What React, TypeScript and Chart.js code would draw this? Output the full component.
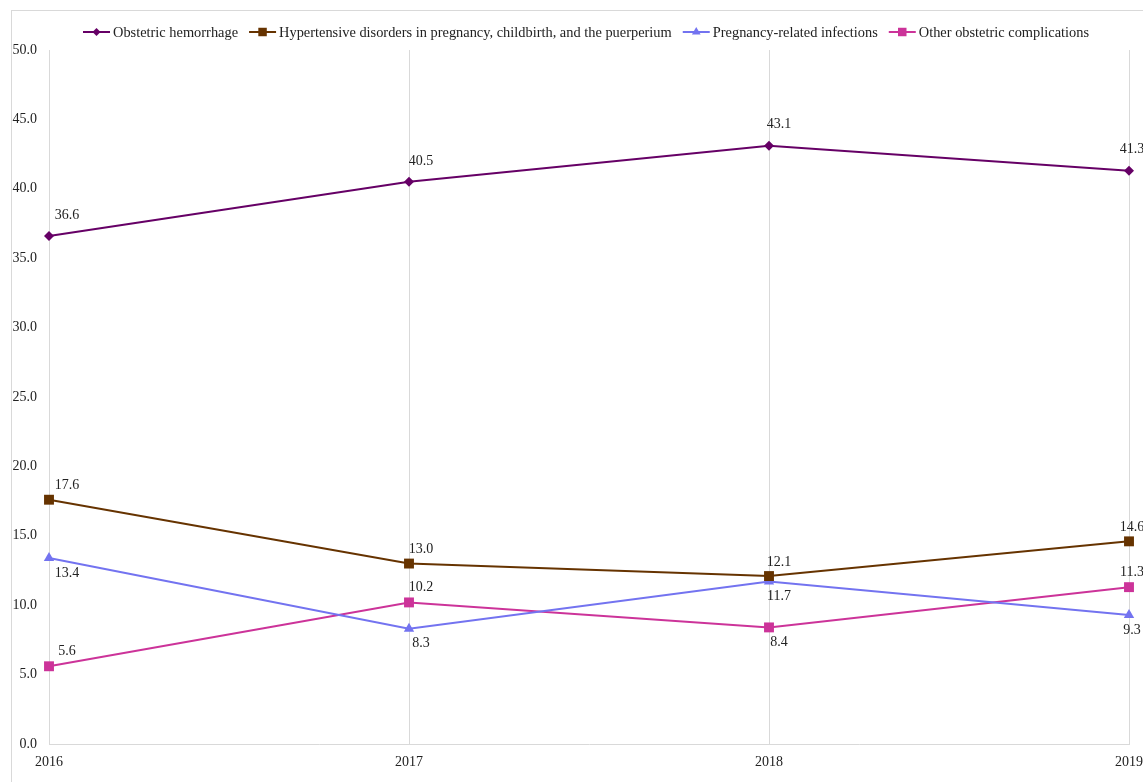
import React, { useEffect, useRef } from "react";
import { Chart, registerables } from "chart.js";

Chart.register(...registerables);

const years = ["2016", "2017", "2018", "2019"];
const hemorrhage = [36.6, 40.5, 43.1, 41.3];
const hypertensive = [17.6, 13.0, 12.1, 14.6];
const infections = [13.4, 8.3, 11.7, 9.3];
const otherComplications = [5.6, 10.2, 8.4, 11.3];

const seriesNames = [
  "Obstetric hemorrhage",
  "Hypertensive disorders in pregnancy, childbirth, and the puerperium",
  "Pregnancy-related infections",
  "Other obstetric complications",
];

// label placement per series/point (style only)
const labelSide = [
  ["above", "above", "above", "above"],
  ["above", "above", "above", "above"],
  ["below", "below", "below", "below"],
  ["above", "above", "below", "above"],
];
const labelDx = [18, 12, 10, 3];
const labelAboveGap = [21, 14, 14, 15];
const labelBelowGap = 13;

const FONT = '"Liberation Serif", "Times New Roman", serif';

const colors = ["#660066", "#663300", "#7373F0", "#CC3399"];
const pointStyles = ["rectRot", "rect", "triangle", "rect"];
const pointRadii = [5, 7, 6, 7];

function drawMarker(ctx: CanvasRenderingContext2D, style: string, x: number, y: number, r: number, color: string) {
  ctx.save();
  ctx.fillStyle = color;
  ctx.beginPath();
  if (style === "rectRot") {
    ctx.moveTo(x, y - r);
    ctx.lineTo(x + r, y);
    ctx.lineTo(x, y + r);
    ctx.lineTo(x - r, y);
    ctx.closePath();
  } else if (style === "rect") {
    const s = r * Math.SQRT1_2;
    ctx.rect(x - s, y - s, 2 * s, 2 * s);
  } else {
    const rad = (-90 * Math.PI) / 180;
    ctx.moveTo(x + Math.cos(rad) * r, y + Math.sin(rad) * r);
    ctx.lineTo(x + Math.cos(rad + (2 * Math.PI) / 3) * r, y + Math.sin(rad + (2 * Math.PI) / 3) * r);
    ctx.lineTo(x + Math.cos(rad + (4 * Math.PI) / 3) * r, y + Math.sin(rad + (4 * Math.PI) / 3) * r);
    ctx.closePath();
  }
  ctx.fill();
  ctx.restore();
}

const framePlugin = {
  id: "frame",
  beforeDraw(chart: any) {
    const ctx = chart.ctx as CanvasRenderingContext2D;
    ctx.save();
    ctx.fillStyle = "#ffffff";
    ctx.fillRect(0, 0, chart.width, chart.height);
    ctx.strokeStyle = "#d9d9d9";
    ctx.lineWidth = 1;
    ctx.strokeRect(11.5, 10.5, 3000, 3000);
    ctx.restore();
  },
};

const legendPlugin = {
  id: "customLegend",
  afterDraw(chart: any) {
    const ctx = chart.ctx as CanvasRenderingContext2D;
    ctx.save();
    ctx.font = `14.4px ${FONT}`;
    ctx.textBaseline = "middle";
    const lineLen = 27;
    const gapText = 3;
    const gapItem = 11;
    const widths = seriesNames.map((n) => ctx.measureText(n).width);
    const total = widths.reduce((a, w) => a + lineLen + gapText + w, 0) + gapItem * (seriesNames.length - 1);
    let x = 586 - total / 2;
    const y = 32;
    seriesNames.forEach((name, i) => {
      ctx.strokeStyle = colors[i];
      ctx.lineWidth = 2;
      ctx.beginPath();
      ctx.moveTo(x, y);
      ctx.lineTo(x + lineLen, y);
      ctx.stroke();
      drawMarker(ctx, pointStyles[i], x + lineLen / 2, y, pointRadii[i] - 1, colors[i]);
      ctx.fillStyle = "#222";
      ctx.fillText(name, x + lineLen + gapText, y + 1);
      x += lineLen + gapText + widths[i] + gapItem;
    });
    ctx.restore();
  },
};

const labelPlugin = {
  id: "valueLabels",
  afterDatasetsDraw(chart: any) {
    const ctx = chart.ctx as CanvasRenderingContext2D;
    ctx.save();
    ctx.font = `14px ${FONT}`;
    ctx.fillStyle = "#222";
    ctx.textAlign = "center";
    ctx.textBaseline = "middle";
    chart.data.datasets.forEach((ds: any, di: number) => {
      const meta = chart.getDatasetMeta(di);
      meta.data.forEach((pt: any, i: number) => {
        const v = ds.data[i] as number;
        const side = labelSide[di][i];
        const y = side === "above" ? pt.y - labelAboveGap[di] : pt.y + labelBelowGap + 2;
        ctx.fillText(v.toFixed(1), pt.x + labelDx[i], y);
      });
    });
    ctx.restore();
  },
};

export default function App() {
  const ref = useRef<HTMLCanvasElement | null>(null);
  useEffect(() => {
    if (!ref.current) return;
    const data = [hemorrhage, hypertensive, infections, otherComplications];
    const chart = new Chart(ref.current, {
      type: "line",
      data: {
        labels: years,
        datasets: data.map((d, i) => ({
          label: seriesNames[i],
          data: d,
          borderColor: colors[i],
          backgroundColor: colors[i],
          borderWidth: 2,
          pointStyle: pointStyles[i] as any,
          pointRadius: pointRadii[i],
          pointBorderWidth: 0,
          pointBackgroundColor: colors[i],
          tension: 0,
          fill: false,
        })),
      },
      options: {
        responsive: false,
        animation: false,
        devicePixelRatio: 1,
        layout: { padding: { top: 50, right: 14, left: 0, bottom: 0 } },
        plugins: { legend: { display: false }, tooltip: { enabled: false } },
        scales: {
          x: {
            type: "category",
            offset: false,
            grid: { color: "#d9d9d9", lineWidth: 1, drawTicks: false },
            border: { display: true, color: "#d9d9d9" },
            ticks: { font: { family: FONT, size: 14 }, color: "#222", padding: 10, maxRotation: 0 },
            afterFit: (s: any) => {
              s.height = 38;
              s.paddingRight = 0;
              s.paddingLeft = 0;
            },
          },
          y: {
            min: 0,
            max: 50,
            grid: { display: false, drawTicks: false },
            border: { display: true, color: "#d9d9d9" },
            ticks: {
              stepSize: 5,
              font: { family: FONT, size: 14 },
              color: "#222",
              padding: 12,
              callback: (v: any) => Number(v).toFixed(1),
            },
            afterFit: (s: any) => {
              s.width = 49;
            },
          },
        },
      },
      plugins: [framePlugin, legendPlugin, labelPlugin],
    });
    return () => chart.destroy();
  }, []);
  return (
    <div style={{ position: "fixed", left: 0, top: 0, width: 1143, height: 782 }}>
      <canvas ref={ref} width={1143} height={782} style={{ display: "block" }} />
    </div>
  );
}
